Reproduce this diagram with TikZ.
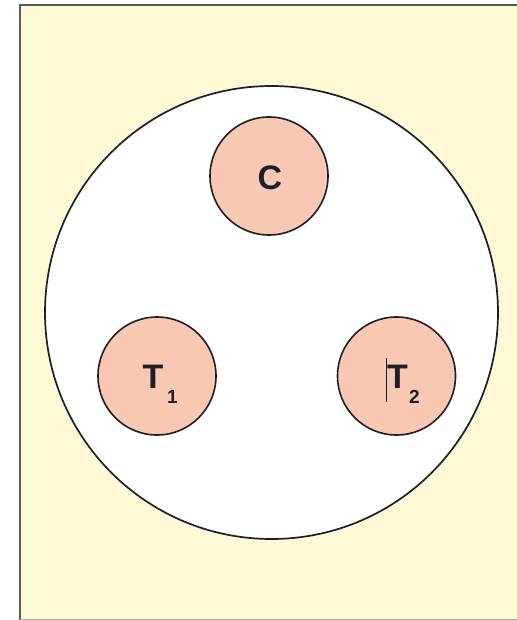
\documentclass[tikz,border=0pt]{standalone}
\usepackage{fontspec}
\setmainfont{Liberation Sans}
\definecolor{cream}{RGB}{255,250,214}
\definecolor{salmon}{RGB}{249,200,178}
\definecolor{edgegray}{RGB}{90,90,90}
\definecolor{inkdark}{RGB}{30,30,40}
\begin{document}
\begin{tikzpicture}[x=1pt,y=-1pt,
  disk/.style={circle,draw=inkdark,line width=1.6pt,fill=salmon,minimum size=118pt,inner sep=0pt},
  bigtxt/.style={font=\fontsize{34}{38}\selectfont\bfseries,text=inkdark,inner sep=0pt,anchor=base west},
  subtxt/.style={font=\fontsize{19}{22}\selectfont\bfseries,text=inkdark,inner sep=0pt,anchor=base west}]
\useasboundingbox (0,0) rectangle (516,620);
\fill[cream] (20,5) rectangle (530,620);
\draw[edgegray,line width=2.2pt] (530,5) -- (20,5) -- (20,620.5);
\draw[edgegray!50,line width=1.2pt] (20,619.2) -- (530,619.2);
\node[circle,draw=inkdark,line width=1.7pt,fill=white,minimum size=453pt,inner sep=0pt] (outer) at (271.5,312.5) {};
\node[disk] (c) at (269,176) {};
\node[disk] (t1) at (157,376) {};
\node[disk] (t2) at (396.5,376) {};
\node[bigtxt,anchor=base] (cl) at (270,189.5) {C};
\node[bigtxt] (t1T) at (142.5,388) {T};
\node[subtxt] (t1s) at (167,403) {1};
\node[bigtxt] (t2T) at (387,388) {T};
\node[subtxt] (t2s) at (409,403) {2};
\coordinate (curtop) at (386,358);
\coordinate (curbot) at (386,402);
\draw[inkdark!80!blue,line width=0.9pt] (curtop) -- (curbot);
\end{tikzpicture}
\end{document}
